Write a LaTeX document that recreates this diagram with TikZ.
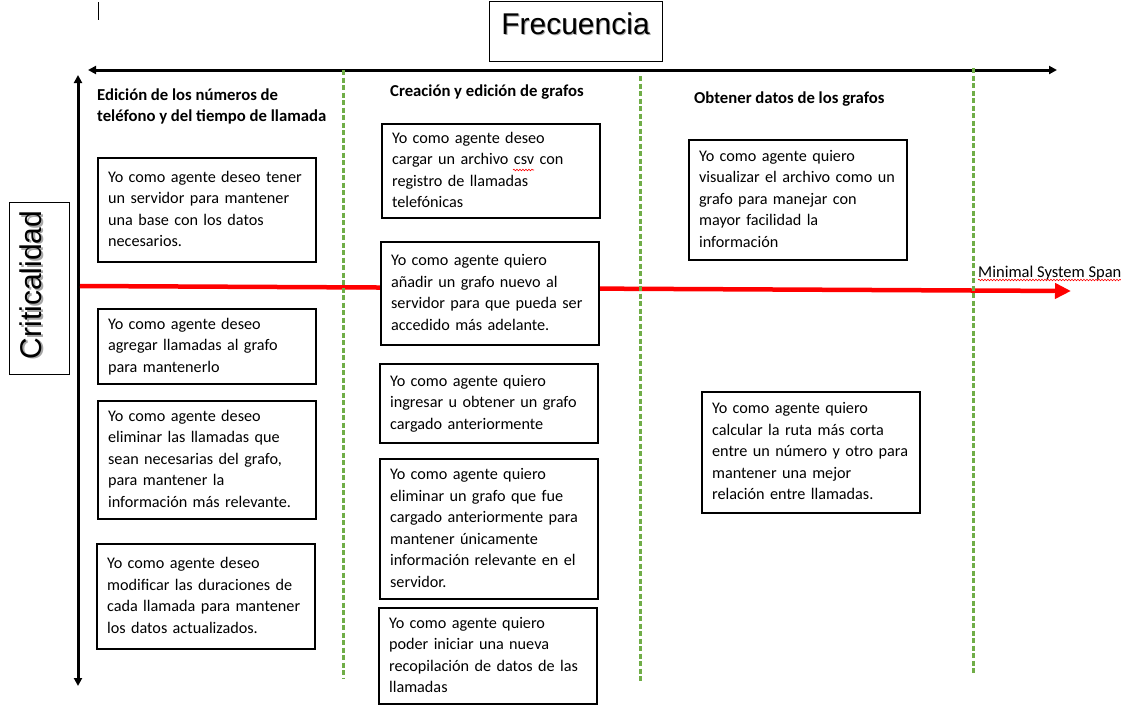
\documentclass[tikz,border=0pt]{standalone}
\usepackage{fontspec}
\setmainfont{Carlito}
\newfontfamily\arialf{Liberation Sans}
\usetikzlibrary{arrows.meta,decorations.pathmorphing}
\hyphenpenalty=10000
\definecolor{colgreen}{RGB}{112,173,71}
\tikzstyle{story}=[draw=black,line width=2.2pt,fill=white,anchor=north west,text width=198pt,inner xsep=10pt,inner ysep=0pt,align=left,font=\fontsize{16.2}{21.5}\selectfont,execute at begin node=\strut,execute at end node=\strut]
\tikzstyle{head}=[anchor=base west,inner sep=0pt,align=left,font=\bfseries\fontsize{16.7}{21}\selectfont]
\tikzstyle{big}=[inner sep=0pt,font=\arialf\fontsize{30}{30}\selectfont]
\tikzstyle{axis}=[line width=3pt,{Triangle[length=8pt,width=8pt]}-{Triangle[length=8pt,width=8pt]}]
\tikzstyle{col}=[colgreen,line width=3pt,dash pattern=on 5pt off 2.5pt]
\tikzstyle{span}=[red,line width=4.5pt,-{Triangle[length=16pt,width=15pt]}]
\tikzstyle{spell}=[red,line width=0.6pt,decorate,decoration={snake,amplitude=0.8pt,segment length=3pt}]

\begin{document}
\begin{tikzpicture}[x=1pt,y=-1pt]
\useasboundingbox (0,0) rectangle (1121,723);
    % ejes
    \coordinate (fl) at (88,70);
    \coordinate (fr) at (1057,70);
    \coordinate (ct) at (78,75);
    \coordinate (cb) at (78,686);
    \draw[axis] (fl) -- (fr);
    \draw[axis] (ct) -- (cb);
    \coordinate (cur1) at (98,2);
    \coordinate (cur2) at (98,20);
    \draw[line width=1pt] (cur1) -- (cur2);
    % minimal system span
    \coordinate (ms1) at (80,286);
    \coordinate (ms2) at (1071,291);
    \draw[span] (ms1) -- (ms2);
    % columnas
    \coordinate (g1t) at (343,70);  \coordinate (g1b) at (343,679);
    \coordinate (g2t) at (640,76);  \coordinate (g2b) at (640,682);
    \coordinate (g3t) at (973,68);  \coordinate (g3b) at (973,675);
    \draw[col] (g1t) -- (g1b);
    \draw[col] (g2t) -- (g2b);
    \draw[col] (g3t) -- (g3b);
    % titulos
    \node[draw,line width=1pt,minimum width=173pt,minimum height=60pt,anchor=north west] (frec) at (489,1) {};
    \node[big,text=black!35] (frecs) at (576.5,25) {Frecuencia};
    \node[big] (frect) at (575.5,23.5) {Frecuencia};
    \node[draw,line width=1pt,minimum width=60pt,minimum height=172pt,anchor=north west] (crit) at (9,202) {};
    \node[big,rotate=90,text=black!35] (crits) at (32.5,286.5) {Criticalidad};
    \node[big,rotate=90] (critt) at (31,285) {Criticalidad};
    \node (mss) [anchor=base west,inner sep=0pt,font=\fontsize{16.5}{21.5}\selectfont] at (978,277) {Minimal System Span};
    \draw[spell] ([yshift=-3pt]mss.base west) -- ([yshift=-3pt]mss.base east);
    % epicas
    \node[head] (h1) at (97,121) {Edición de los números de\\teléfono y del tiempo de llamada};
    \node[head] (h2) at (390,96) {Creación y edición de grafos};
    \node[head] (h3) at (694,103) {Obtener datos de los grafos};
    % historias
    \node[story,minimum height=104pt] (b1) at (97,157) {Yo como agente deseo tener\\un servidor para mantener\\una base con los datos\\necesarios.};
    \node[story,minimum height=75pt] (b2) at (97,308) {Yo como agente deseo\\agregar llamadas al grafo\\para mantenerlo};
    \node[story,minimum height=118pt] (b3) at (97,400) {Yo como agente deseo\\eliminar las llamadas que\\sean necesarias del grafo,\\para mantener la\\información más relevante.};
    \node[story,minimum height=105pt] (b4) at (96,543) {Yo como agente deseo\\modificar las duraciones de\\cada llamada para mantener\\los datos actualizados.};
    \node[story,minimum height=94pt] (c1) at (381,123) {Yo como agente deseo\\cargar un archivo csv con\\registro de llamadas\\telefónicas};
    \coordinate (csv1) at (513,170);
    \coordinate (csv2) at (534,170);
    \draw[spell] (csv1) -- (csv2);
    \node[story,minimum height=103pt] (c2) at (380,241) {Yo como agente quiero\\añadir un grafo nuevo al\\servidor para que pueda ser\\accedido más adelante.};
    \node[story,minimum height=79pt] (c3) at (379,363) {Yo como agente quiero\\ingresar u obtener un grafo\\cargado anteriormente};
    \node[story,minimum height=140pt] (c4) at (379,458) {Yo como agente quiero\\eliminar un grafo que fue\\cargado anteriormente para\\mantener únicamente\\información relevante en el\\servidor.};
    \node[story,minimum height=96pt] (c5) at (378,607) {Yo como agente quiero\\poder iniciar una nueva\\recopilación de datos de las\\llamadas};
    \node[story,minimum height=120pt] (d1) at (688,139) {Yo como agente quiero\\visualizar el archivo como un\\grafo para manejar con\\mayor facilidad la\\información};
    \node[story,minimum height=121pt] (d2) at (701,391) {Yo como agente quiero\\calcular la ruta más corta\\entre un número y otro para\\mantener una mejor\\relación entre llamadas.};
\end{tikzpicture}
\end{document}
